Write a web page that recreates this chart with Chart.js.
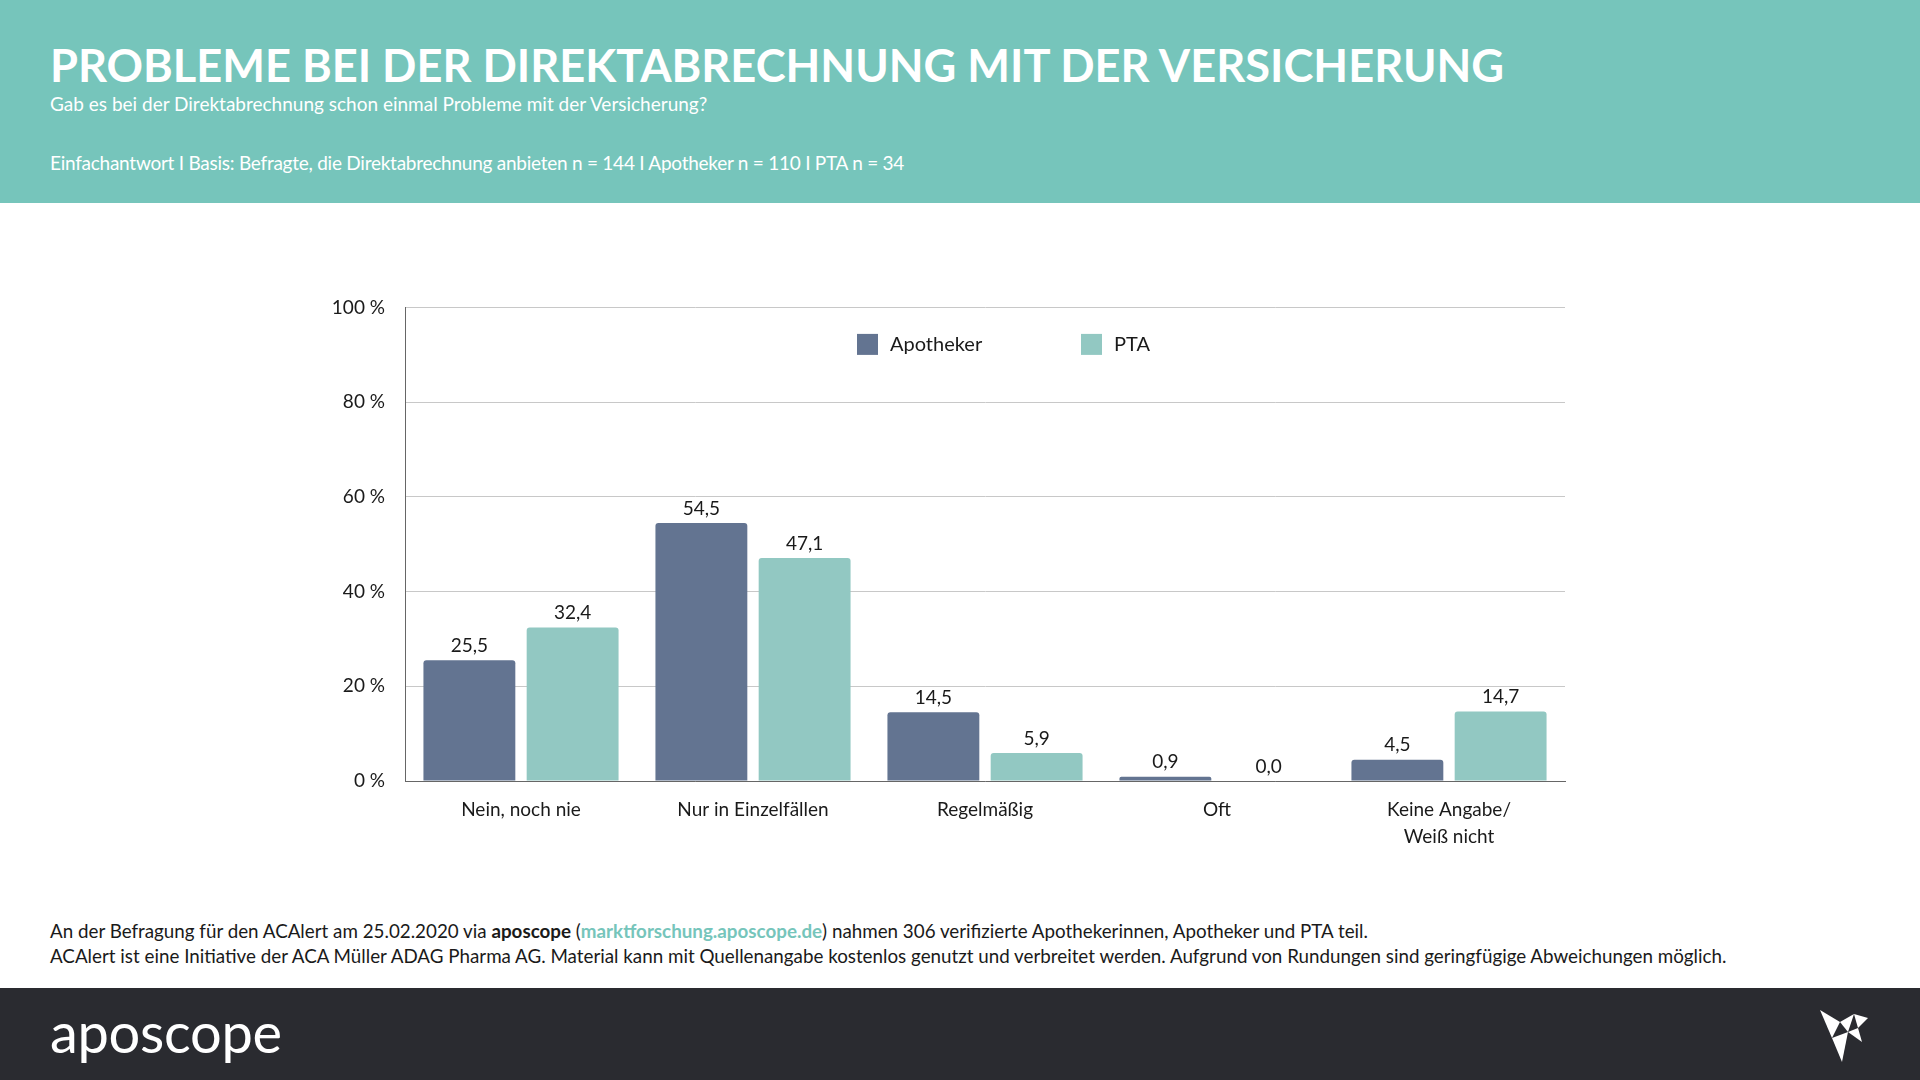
<!DOCTYPE html>
<html lang="de">
<head>
<meta charset="utf-8">
<title>Probleme bei der Direktabrechnung mit der Versicherung</title>
<script src="https://cdn.jsdelivr.net/npm/chart.js@4.4.1/dist/chart.umd.min.js"></script>
<style>
  html, body { margin: 0; padding: 0; }
  body {
    width: 1920px; height: 1080px; overflow: hidden; position: relative;
    background: #fff; font-family: "Source Sans Pro", Lato, sans-serif; color: #1a1a1a;
  }
  .header { position: absolute; left: 0; top: 0; width: 1920px; height: 203px; background: #76c5bb; color: #fff; }
  .header div { position: absolute; left: 50px; line-height: 1; white-space: nowrap; }
  .title { top: 42px; font-size: 45.2px; font-weight: 700; }
  .sub { top: 94px; font-size: 19px; }
  .basis { top: 153px; font-size: 19px; letter-spacing: -0.25px; }
  .chartbox { position: absolute; left: 280px; top: 276px; width: 1300px; height: 584px; }
  .note { position: absolute; left: 50px; font-size: 18.8px; line-height: 1; white-space: nowrap; color: #1a1a1a; }
  .note b { font-weight: 700; }
  .note .link { color: #76c5bb; font-weight: 700; }
  .footer { position: absolute; left: 0; top: 988px; width: 1920px; height: 92px; background: #2a2b30; }
  .logo { position: absolute; left: 50px; top: 16px; font-size: 56px; color: #fff; line-height: 1; letter-spacing: -0.3px; }
  .bird { position: absolute; left: 1818px; top: 20px; }
</style>
</head>
<body>
<div class="header">
  <div class="title">PROBLEME BEI DER DIREKTABRECHNUNG MIT DER VERSICHERUNG</div>
  <div class="sub">Gab es bei der Direktabrechnung schon einmal Probleme mit der Versicherung?</div>
  <div class="basis">Einfachantwort I Basis: Befragte, die Direktabrechnung anbieten n = 144 I Apotheker n = 110 I PTA n = 34</div>
</div>

<div class="chartbox"><canvas id="chart"></canvas></div>

<div class="note" style="top:922px">An der Befragung für den ACAlert am 25.02.2020 via <b>aposcope</b> (<span class="link">marktforschung.aposcope.de</span>) nahmen 306 verifizierte Apothekerinnen, Apotheker und PTA teil.</div>
<div class="note" style="top:947px">ACAlert ist eine Initiative der ACA Müller ADAG Pharma AG. Material kann mit Quellenangabe kostenlos genutzt und verbreitet werden. Aufgrund von Rundungen sind geringfügige Abweichungen möglich.</div>

<div class="footer">
  <div class="logo">aposcope</div>
  <svg class="bird" width="52" height="56" viewBox="0 0 52 56">
    <polygon points="2,2 22,14 14,30" fill="#fff"/>
    <polygon points="22,14 36,6 30,24" fill="#fff"/>
    <polygon points="36,6 50,10 40,20" fill="#fff"/>
    <polygon points="14,30 30,24 24,54" fill="#fff"/>
    <polygon points="30,24 40,20 44,34" fill="#fff"/>
  </svg>
</div>

<script>
// Daten
const categories = ['Nein, noch nie', 'Nur in Einzelfällen', 'Regelmäßig', 'Oft', ['Keine Angabe/', 'Weiß nicht']];
const seriesNames = ['Apotheker', 'PTA'];
const apothekerValues = [25.5, 54.5, 14.5, 0.9, 4.5];
const ptaValues = [32.4, 47.1, 5.9, 0.0, 14.7];
const yTicks = [0, 20, 40, 60, 80, 100];

const colors = ['#637491', '#92c8c2'];
const fontFamily = '"Source Sans Pro", Lato, sans-serif';

// Werte über den Balken
const valueLabels = {
    id: 'valueLabels',
    afterDatasetsDraw(chart) {
        const ctx = chart.ctx;
        ctx.save();
        ctx.font = '19px ' + fontFamily;
        ctx.fillStyle = '#1a1a1a';
        ctx.textAlign = 'center';
        ctx.textBaseline = 'bottom';
        chart.data.datasets.forEach((ds, i) => {
            chart.getDatasetMeta(i).data.forEach((bar, j) => {
                const txt = ds.data[j].toFixed(1).replace('.', ',');
                ctx.fillText(txt, bar.x, bar.y - 5);
            });
        });
        ctx.restore();
    }
};

// Legende innerhalb der Zeichenfläche
const innerLegend = {
    id: 'innerLegend',
    afterDraw(chart) {
        const ctx = chart.ctx;
        const area = chart.chartArea;
        const cx = (area.left + area.right) / 2;
        const y = area.top + 37;
        ctx.save();
        ctx.font = '20px ' + fontFamily;
        ctx.textBaseline = 'middle';
        ctx.textAlign = 'left';
        chart.data.datasets.forEach((ds, i) => {
            const x = cx - 128 + i * 224;
            ctx.fillStyle = ds.backgroundColor;
            ctx.fillRect(x, y - 10.5, 21, 21);
            ctx.fillStyle = '#1a1a1a';
            ctx.fillText(ds.label, x + 33, y);
        });
        ctx.restore();
    }
};

function renderChart() {
    const ctx = document.getElementById('chart').getContext('2d');
    Chart.defaults.font.family = fontFamily;
    Chart.defaults.color = '#1a1a1a';

    new Chart(ctx, {
        type: 'bar',
        data: {
            labels: categories,
            datasets: [
                { label: seriesNames[0], data: apothekerValues, backgroundColor: colors[0] },
                { label: seriesNames[1], data: ptaValues, backgroundColor: colors[1] }
            ]
        },
        options: {
            responsive: true,
            maintainAspectRatio: false,
            animation: false,
            categoryPercentage: 0.89,
            barPercentage: 0.89,
            borderRadius: { topLeft: 3, topRight: 3 },
            layout: { padding: { top: 3, right: 15, left: 0, bottom: 0 } },
            plugins: {
                legend: { display: false },
                tooltip: { enabled: false }
            },
            scales: {
                x: {
                    grid: { display: false, drawTicks: false },
                    border: { display: true, color: '#666', width: 1 },
                    ticks: { padding: 16, font: { size: 19, lineHeight: 1.4 }, color: '#1a1a1a', maxRotation: 0 },
                    afterFit(scale) { scale.height = 79; }
                },
                y: {
                    min: 0,
                    max: 100,
                    afterBuildTicks(scale) { scale.ticks = yTicks.map(v => ({ value: v })); },
                    grid: { color: '#c8c8c8', lineWidth: 1, drawTicks: false },
                    border: { display: true, color: '#666', width: 1 },
                    ticks: {
                        padding: 20,
                        font: { size: 19 },
                        color: '#1a1a1a',
                        callback: v => v + ' %'
                    },
                    afterFit(scale) { scale.width = 125; }
                }
            }
        },
        plugins: [valueLabels, innerLegend]
    });
}

document.addEventListener('DOMContentLoaded', renderChart);
</script>
</body>
</html>
